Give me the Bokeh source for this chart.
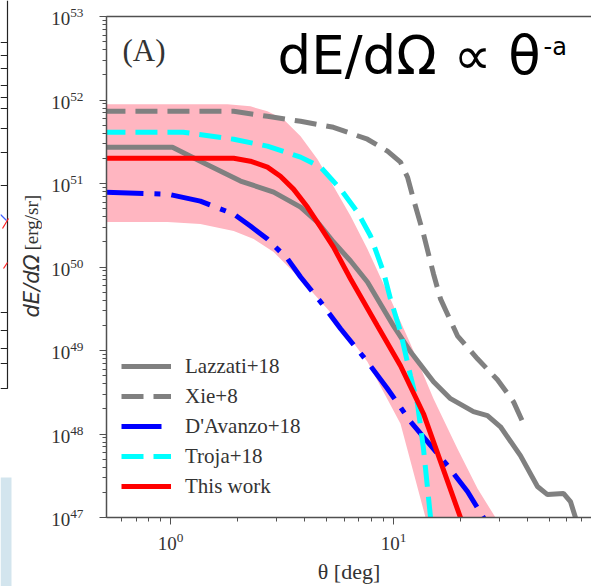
import math
from bokeh.plotting import figure
from bokeh.layouts import row
from bokeh.models import Range1d, Label, Legend, LegendItem, LogAxis, FixedTicker, LogTicker
from bokeh.core.properties import value
from bokeh.embed import file_html
from bokeh.resources import INLINE

# ---------------- data (theta in deg, dE/dOmega in erg/sr) ----------------
lazzati_theta = [0.5, 1.02, 1.36, 2.06, 2.90, 3.83, 4.56, 5.38, 6.42, 7.64, 10.0, 11.92,
                 15.12, 18.02, 22.84, 26.40, 30.19, 37.11, 44.24, 49.05, 57.86, 62.2, 65.5, 66.5]
lazzati_E = [2.72e51, 2.72e51, 1.85e51, 1.07e51, 7.88e50, 5.22e50, 3.45e50, 1.99e50, 1.18e50,
             6.62e49, 1.97e49, 9.64e48, 4.22e48, 2.65e48, 1.85e48, 1.66e48, 1.22e48, 5.51e47,
             2.35e47, 1.88e47, 1.94e47, 1.55e47, 1.0e47, 0.8e47]

xie_theta = [0.5, 1.92, 2.72, 3.83, 5.38, 7.64, 9.40, 10.75, 11.56, 12.29, 13.63, 15.12,
             16.25, 19.36, 23.81, 29.27, 34.52, 38.28]
xie_E = [7.32e51, 7.32e51, 6.38e51, 5.56e51, 4.71e51, 3.39e51, 2.44e51, 1.80e51, 1.19e51,
         6.50e50, 2.48e50, 8.25e49, 4.15e49, 1.50e49, 7.96e48, 4.46e48, 2.44e48, 1.33e48]

davanzo_theta = [0.5, 0.97, 1.36, 1.92, 2.28, 2.72, 3.35, 3.83, 4.71, 5.79, 7.64, 9.40,
                 11.92, 17.47, 21.47, 25.32, 26.5]
davanzo_E = [7.88e50, 7.46e50, 6.15e50, 4.30e50, 3.09e50, 2.16e50, 1.25e50, 7.60e49, 3.82e49,
             1.82e49, 7.32e48, 3.48e48, 1.41e48, 4.19e47, 2.05e47, 1.0e47, 0.8e47]

troja_theta = [0.5, 1.14, 1.92, 2.72, 3.83, 4.71, 5.79, 6.90, 7.89, 9.02, 9.69, 10.75,
               11.92, 12.81, 13.63, 14.66, 15.0]
troja_E = [4.11e51, 4.11e51, 3.39e51, 2.80e51, 2.07e51, 1.57e51, 8.56e50, 4.54e50, 2.35e50,
           8.72e49, 4.15e49, 1.67e49, 4.98e48, 2.31e48, 6.68e47, 1.0e47, 0.8e47]

thiswork_theta = [0.5, 1.92, 2.28, 2.72, 3.11, 3.56, 4.11, 4.71, 5.38, 6.42, 8.48, 10.75,
                  13.63, 19.97, 21.0]
thiswork_E = [2.01e51, 2.01e51, 1.85e51, 1.57e51, 1.22e51, 8.56e50, 5.22e50, 3.01e50, 1.73e50,
              7.19e49, 1.97e49, 6.56e48, 1.75e48, 1.0e47, 0.8e47]

band_upper_theta = [0.5, 1.80, 2.28, 2.72, 3.21, 3.83, 4.56, 5.38, 6.42, 7.64, 9.69, 11.92,
                    15.12, 19.36, 23.81, 28.67, 30.0]
band_upper_E = [8.88e51, 8.88e51, 8.40e51, 7.32e51, 5.87e51, 3.68e51, 1.95e51, 9.29e50, 4.07e50,
                1.64e50, 4.15e49, 1.20e49, 2.65e48, 6.68e47, 2.22e47, 1.0e47, 0.8e47]
band_lower_theta = [0.5, 0.97, 1.36, 1.92, 2.36, 2.90, 3.35, 3.83, 5.38, 7.64, 10.75, 13.92, 14.3]
band_lower_E = [3.45e50, 3.45e50, 3.27e50, 2.69e50, 2.16e50, 1.51e50, 1.03e50, 7.19e49, 2.60e49,
                7.32e48, 1.33e48, 1.0e47, 0.8e47]

labels = ["Lazzati+18", "Xie+8", "D'Avanzo+18", "Troja+18", "This work"]

SERIF = "Liberation Serif"
TXT = "#333333"
AX = "#505050"
H = 586
LEFT_W = 42

# ---------------- left strip: sliver of neighbouring panel + y-axis title ----------------
side = figure(width=LEFT_W, height=H, x_range=Range1d(0, LEFT_W), y_range=Range1d(H, 0),
              output_backend="svg", toolbar_location=None, x_axis_location=None,
              y_axis_location=None, min_border=0, title=None)
try:
    side.frame_align = False
except Exception:
    side.y_range = Range1d(520, 16)
side.outline_line_color = None
side.grid.visible = False
side.background_fill_color = "white"
side.border_fill_color = "white"
side.quad(left=[0], right=[11], top=[477], bottom=[H], fill_color="#d3e5ee", line_color=None)
side.line([7, 7, 0], [0, 388, 388], line_color="#222222", line_width=1.2)
tick_y = [42, 55, 68, 85, 97, 108, 128, 152, 185, 312, 330, 348, 363]
side.segment(x0=[0] * len(tick_y), y0=tick_y, x1=[7] * len(tick_y), y1=tick_y,
             line_color="#222222", line_width=1)
side.segment(x0=[0, 2, 3], y0=[214, 228, 268], x1=[6, 8, 7], y1=[220, 218, 262],
             line_color=["#4060ff", "#ff2020", "#ff2020"], line_width=1.2)
side.text(x=[31], y=[317], text=["dE/dΩ"], angle=math.pi / 2, text_font=value("DejaVu Sans"),
          text_font_style="italic", text_font_size="21px", text_color=TXT,
          text_align="left", text_baseline="middle")
side.text(x=[31], y=[250], text=["[erg/sr]"], angle=math.pi / 2, text_font=value(SERIF),
          text_font_size="19px", text_color=TXT, text_align="left", text_baseline="middle")

# ---------------- main figure ----------------
p = figure(width=591 - LEFT_W, height=H, x_axis_type="log", y_axis_type="log",
           x_range=Range1d(0.516, 77.3), y_range=Range1d(1e47, 1e53),
           output_backend="svg", toolbar_location=None,
           min_border_left=106 - LEFT_W, min_border_right=0, min_border_top=16,
           min_border_bottom=66)
p.outline_line_color = None
p.grid.visible = False
p.background_fill_color = "white"
p.border_fill_color = "white"

p.patch(band_upper_theta + band_lower_theta[::-1], band_upper_E + band_lower_E[::-1],
        fill_color="#ffb6c1", line_color=None)

r_laz = p.line(lazzati_theta, lazzati_E, line_color="#808080", line_width=5)
r_xie = p.line(xie_theta, xie_E, line_color="#808080", line_width=5, line_dash="22 10")
r_dav = p.line(davanzo_theta, davanzo_E, line_color="#0000ff", line_width=5, line_dash="40 11 6 11")
r_tro = p.line(troja_theta, troja_E, line_color="#00ffff", line_width=5, line_dash="22 10")
r_tw = p.line(thiswork_theta, thiswork_E, line_color="#ff0000", line_width=5)

for ax in (p.xaxis[0], p.yaxis[0]):
    ax.axis_line_color = AX
    ax.axis_line_width = 1.5
    ax.major_tick_line_color = AX
    ax.minor_tick_line_color = AX
    ax.major_tick_in = 0
    ax.minor_tick_in = 0
    ax.major_tick_out = 7
    ax.minor_tick_out = 4
    ax.major_label_text_font = SERIF
    ax.major_label_text_font_size = "19px"
    ax.major_label_text_color = TXT
    ax.axis_label_text_font = SERIF
    ax.axis_label_text_font_size = "22px"
    ax.axis_label_text_font_style = "normal"
    ax.axis_label_text_color = TXT

p.xaxis[0].ticker = LogTicker(num_minor_ticks=10)
p.yaxis[0].ticker = LogTicker(num_minor_ticks=10)
p.xaxis[0].major_label_standoff = 8
p.yaxis[0].major_label_standoff = 16
p.xaxis[0].axis_label = "θ [deg]"
p.xaxis[0].axis_label_standoff = 6

top = LogAxis(ticker=FixedTicker(ticks=[]), axis_line_color=AX, axis_line_width=1.5,
              major_tick_out=0, minor_tick_out=0, major_label_text_font_size="0px")
p.add_layout(top, "above")

legend = Legend(items=[LegendItem(label=l, renderers=[r]) for l, r in
                       zip(labels, [r_laz, r_xie, r_dav, r_tro, r_tw])],
                location=(15, 16), border_line_color=None, background_fill_alpha=0,
                padding=0, margin=0, spacing=0, glyph_width=50, glyph_height=30,
                label_height=30, label_standoff=14, label_text_font=SERIF,
                label_text_font_size="21px", label_text_color=TXT)
p.add_layout(legend)

p.add_layout(Label(x=16, y=467, x_units="screen", y_units="screen", text="(A)",
                   text_font=SERIF, text_font_size="31px", text_color=TXT,
                   text_baseline="alphabetic"))
p.add_layout(Label(x=171, y=462, x_units="screen", y_units="screen", text="dE/dΩ ∝ θ",
                   text_font="DejaVu Sans", text_font_size="53px", text_color="black",
                   text_baseline="alphabetic"))
p.add_layout(Label(x=437, y=471, x_units="screen", y_units="screen", text="-a",
                   text_font="DejaVu Sans", text_font_size="24px", text_color="black",
                   text_baseline="alphabetic"))

layout = row(side, p, spacing=0)
open("out.html", "w").write(file_html(layout, INLINE))
